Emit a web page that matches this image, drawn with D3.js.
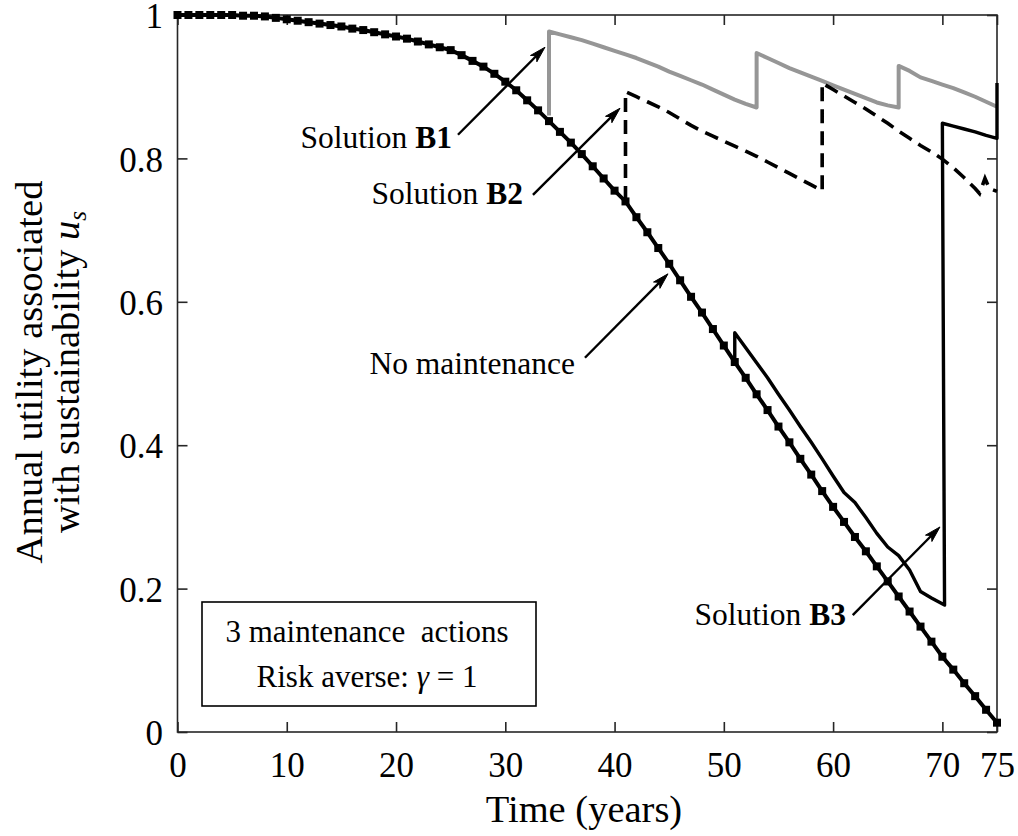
<!DOCTYPE html>
<html>
<head>
<meta charset="utf-8">
<script src="https://cdn.jsdelivr.net/npm/d3@7"></script>
<style>
  html, body { margin: 0; padding: 0; background: #fff; }
  svg text { font-family: "Liberation Serif", "Times New Roman", serif; fill: #000; }
</style>
</head>
<body>
<svg id="chart" width="1018" height="836"></svg>
<script>
// Annual utility associated with sustainability, one value per year (t = index)
const noMaintenance = [
  1.000, 1.000, 1.000, 1.000, 1.000, 1.000, 0.999, 0.999, 0.998, 0.996,
  0.994, 0.992, 0.990, 0.988, 0.986, 0.984, 0.981, 0.979, 0.976, 0.973,
  0.970, 0.967, 0.963, 0.959, 0.955, 0.951, 0.944, 0.936, 0.928, 0.918,
  0.907, 0.895, 0.881, 0.867, 0.852, 0.837, 0.822, 0.806, 0.789, 0.772,
  0.755, 0.740, 0.718, 0.697, 0.675, 0.653, 0.630, 0.607, 0.585, 0.562,
  0.539, 0.516, 0.494, 0.471, 0.449, 0.426, 0.404, 0.381, 0.359, 0.336,
  0.314, 0.293, 0.272, 0.252, 0.231, 0.210, 0.189, 0.168, 0.147, 0.126,
  0.105, 0.087, 0.068, 0.050, 0.031, 0.013
];

// Maintenance solutions: [year, utility]; repeated years are the jumps after an action
const solutionB1 = [
  [34,0.860],[34,0.977],[35,0.973],[36,0.969],[37,0.965],[38,0.960],[39,0.955],[40,0.950],
  [41,0.945],[42,0.940],[43,0.934],[44,0.928],[45,0.921],[46,0.915],[47,0.909],[48,0.903],
  [49,0.896],[50,0.889],[51,0.882],[52,0.876],[53,0.871],[53,0.947],[54,0.940],[55,0.933],
  [56,0.926],[57,0.920],[58,0.914],[59,0.908],[60,0.902],[61,0.896],[62,0.890],[63,0.884],
  [64,0.878],[65,0.874],[66,0.871],[66,0.929],[67,0.922],[68,0.913],[69,0.908],[70,0.903],
  [71,0.898],[72,0.892],[73,0.886],[74,0.879],[75,0.872]
];
const solutionB2 = [
  [41,0.742],[41,0.893],[42,0.886],[43,0.879],[44,0.872],[45,0.864],[46,0.855],[47,0.846],
  [48,0.838],[49,0.831],[50,0.824],[51,0.817],[52,0.810],[53,0.803],[54,0.795],[55,0.787],
  [56,0.779],[57,0.771],[58,0.763],[59,0.755],[59,0.905],[60,0.896],[61,0.887],[62,0.878],
  [63,0.869],[64,0.859],[65,0.849],[66,0.838],[67,0.828],[68,0.818],[69,0.809],[70,0.799],
  [71,0.787],[72,0.773],[73,0.758],[73.4,0.751],[73.9,0.772],[74.3,0.758],[75,0.754]
];
const solutionB3 = [
  [51,0.516],[51,0.557],[52,0.536],[53,0.515],[54,0.494],[55,0.471],[56,0.449],[57,0.426],
  [58,0.404],[59,0.381],[60,0.357],[61,0.334],[62,0.320],[63,0.299],[64,0.277],[65,0.258],
  [66,0.246],[67,0.226],[68,0.196],[69,0.187],[70.2,0.177],[70,0.849],[71,0.845],[72,0.841],
  [73,0.837],[74,0.832],[75,0.828],[75,0.905]
];

// Axis ticks
const xTicks = [0, 10, 20, 30, 40, 50, 60, 70, 75];
const yTicks = [0, 0.2, 0.4, 0.6, 0.8, 1];

// Callout labels: text pieces (bold flag), label anchor and arrow tail/head, all in data units
const callouts = [
  { parts: [["Solution ", false], ["B1", true]], label: [25.12, 0.815], tail: [25.67, 0.833], head: [33.63, 0.955] },
  { parts: [["Solution ", false], ["B2", true]], label: [31.62, 0.737], tail: [32.53, 0.749], head: [40.50, 0.870] },
  { parts: [["No maintenance", false]],          label: [36.38, 0.500], tail: [37.29, 0.522], head: [44.89, 0.639] },
  { parts: [["Solution ", false], ["B3", true]], label: [61.18, 0.149], tail: [61.80, 0.163], head: [69.78, 0.286] }
];

const svg = d3.select("#chart");
const plotLeft = 177.5, plotRight = 997, plotTop = 15, plotBottom = 732;
const x = d3.scaleLinear().domain([0, 75]).range([plotLeft, plotRight]);
const y = d3.scaleLinear().domain([0, 1]).range([plotBottom, plotTop]);
const axisColor = "#262626";

// Frame
svg.append("rect")
  .attr("x", plotLeft).attr("y", plotTop)
  .attr("width", plotRight - plotLeft).attr("height", plotBottom - plotTop)
  .attr("fill", "none").attr("stroke", axisColor).attr("stroke-width", 1.6);

const tickLen = 10;
// Bottom axis with labels
const gx = svg.append("g").attr("transform", `translate(0,${plotBottom})`)
  .call(d3.axisBottom(x).tickValues(xTicks).tickFormat(d3.format("d")).tickSizeInner(-tickLen).tickSizeOuter(0));
gx.select(".domain").remove();
gx.selectAll("line").attr("stroke", axisColor).attr("stroke-width", 1.6);
gx.selectAll("text").attr("y", 45).attr("dy", null).style("font-size", "35px");

// Top axis (ticks only)
const gxt = svg.append("g").attr("transform", `translate(0,${plotTop})`)
  .call(d3.axisTop(x).tickValues(xTicks).tickFormat("").tickSizeInner(-tickLen).tickSizeOuter(0));
gxt.select(".domain").remove();
gxt.selectAll("line").attr("stroke", axisColor).attr("stroke-width", 1.6);

// Left axis with labels
const gy = svg.append("g").attr("transform", `translate(${plotLeft},0)`)
  .call(d3.axisLeft(y).tickValues(yTicks).tickFormat(d => d === 0 || d === 1 ? d3.format("d")(d) : d3.format(".1f")(d)).tickSizeInner(-tickLen).tickSizeOuter(0));
gy.select(".domain").remove();
gy.selectAll("line").attr("stroke", axisColor).attr("stroke-width", 1.6);
gy.selectAll("text").attr("x", -14.5).attr("dy", "0.36em").style("font-size", "35px");

// Right axis (ticks only)
const gyr = svg.append("g").attr("transform", `translate(${plotRight},0)`)
  .call(d3.axisRight(y).tickValues(yTicks).tickFormat("").tickSizeInner(-tickLen).tickSizeOuter(0));
gyr.select(".domain").remove();
gyr.selectAll("line").attr("stroke", axisColor).attr("stroke-width", 1.6);

// Axis titles
svg.append("text")
  .attr("x", 584).attr("y", 822)
  .attr("text-anchor", "middle")
  .style("font-size", "38.5px")
  .text("Time (years)");

const yTitle = svg.append("g").attr("transform", "translate(0,372) rotate(-90)");
yTitle.append("text")
  .attr("x", 0).attr("y", 42)
  .attr("text-anchor", "middle")
  .style("font-size", "38.5px")
  .text("Annual utility associated");
const yt2 = yTitle.append("text")
  .attr("x", 0).attr("y", 79)
  .attr("text-anchor", "middle")
  .style("font-size", "38.5px");
yt2.append("tspan").text("with sustainability ");
yt2.append("tspan").style("font-style", "italic").text("u");
yt2.append("tspan").style("font-style", "italic").style("font-size", "25px").attr("dy", 7).text("s");

// Curves
const line = d3.line().x(d => x(d[0])).y(d => y(d[1]));
const noMaintPts = noMaintenance.map((v, i) => [i, v]);

svg.append("path").datum(solutionB1)
  .attr("d", line).attr("fill", "none")
  .attr("stroke", "#969696").attr("stroke-width", 4).attr("stroke-linejoin", "round");

svg.append("path").datum(solutionB2)
  .attr("d", line).attr("fill", "none")
  .attr("stroke", "#000").attr("stroke-width", 3.6).attr("stroke-dasharray", "14,8");

svg.append("path").datum(solutionB3)
  .attr("d", line).attr("fill", "none")
  .attr("stroke", "#000").attr("stroke-width", 3.4).attr("stroke-linejoin", "round");

svg.append("path").datum(noMaintPts)
  .attr("d", line).attr("fill", "none")
  .attr("stroke", "#000").attr("stroke-width", 4);

const ms = 8;
svg.append("g").selectAll("rect").data(noMaintPts).join("rect")
  .attr("x", d => x(d[0]) - ms / 2).attr("y", d => y(d[1]) - ms / 2)
  .attr("width", ms).attr("height", ms).attr("fill", "#000");

// Legend box
svg.append("rect")
  .attr("x", 202).attr("y", 602).attr("width", 334).attr("height", 104)
  .attr("fill", "#fff").attr("stroke", "#000").attr("stroke-width", 1.6);
svg.append("text").attr("x", 367).attr("y", 642).attr("text-anchor", "middle")
  .style("font-size", "31px").style("white-space", "pre").attr("xml:space", "preserve")
  .text("3 maintenance  actions");
const lg2 = svg.append("text").attr("x", 367).attr("y", 687).attr("text-anchor", "middle")
  .style("font-size", "31px");
lg2.append("tspan").text("Risk averse: ");
lg2.append("tspan").style("font-style", "italic").text("γ");
lg2.append("tspan").text(" = 1");

// Callouts with arrows
const ann = svg.append("g");
callouts.forEach(c => {
  const t = ann.append("text")
    .attr("x", x(c.label[0])).attr("y", y(c.label[1]))
    .attr("text-anchor", "end").style("font-size", "31.5px");
  c.parts.forEach(([s, b]) => t.append("tspan").style("font-weight", b ? "bold" : "normal").text(s));

  const x0 = x(c.tail[0]), y0 = y(c.tail[1]), x1 = x(c.head[0]), y1 = y(c.head[1]);
  const ang = Math.atan2(y1 - y0, x1 - x0);
  const L = 16, W = 4.5, N = 12;
  const bx = x1 - L * Math.cos(ang), by = y1 - L * Math.sin(ang);
  ann.append("line")
    .attr("x1", x0).attr("y1", y0)
    .attr("x2", x1 - N * Math.cos(ang)).attr("y2", y1 - N * Math.sin(ang))
    .attr("stroke", "#000").attr("stroke-width", 2.4);
  const px = -Math.sin(ang), py = Math.cos(ang);
  const head = [
    [x1, y1],
    [bx + W * px, by + W * py],
    [x1 - N * Math.cos(ang), y1 - N * Math.sin(ang)],
    [bx - W * px, by - W * py]
  ];
  ann.append("path")
    .attr("d", "M" + head.map(p => p.join(",")).join("L") + "Z")
    .attr("fill", "#000").attr("stroke", "#000").attr("stroke-width", 1);
});
</script>
</body>
</html>
